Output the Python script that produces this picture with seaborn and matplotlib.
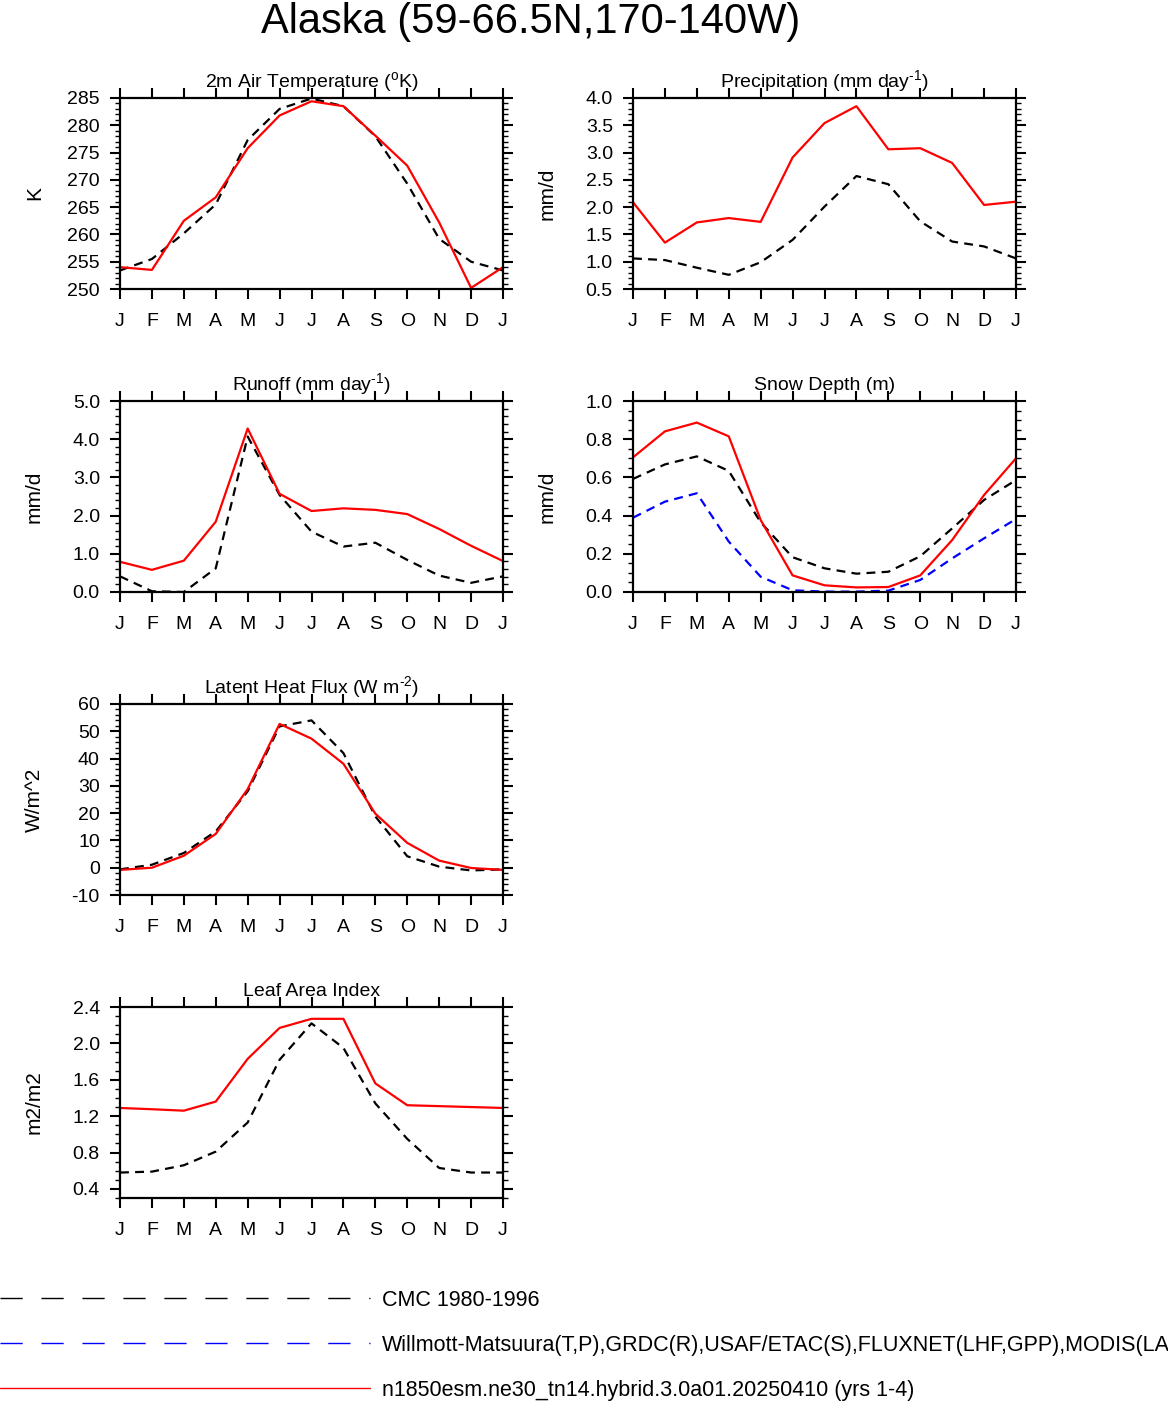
import numpy as np
import pandas as pd
import matplotlib
matplotlib.use("Agg")
import matplotlib.pyplot as plt
from matplotlib.lines import Line2D
from matplotlib.ticker import MultipleLocator
import seaborn as sns

sns.set_theme(style="ticks")
plt.rcParams["font.family"] = ["Liberation Sans", "DejaVu Sans"]
plt.rcParams["mathtext.fontset"] = "custom"
plt.rcParams["mathtext.rm"] = "Liberation Sans"
plt.rcParams["mathtext.default"] = "regular"
for k in ["text.color", "axes.labelcolor", "xtick.color", "ytick.color", "axes.edgecolor"]:
    plt.rcParams[k] = "black"

# ---------------- data ----------------
month_labels = ["J", "F", "M", "A", "M", "J", "J", "A", "S", "O", "N", "D", "J"]
months = list(range(13))

tsa_model = [254.0, 253.5, 262.5, 266.8, 275.8, 281.8, 284.4, 283.5, 278.1, 272.6, 262.2, 250.2, 254.0]
tsa_cmc = [253.4, 255.5, 260.2, 265.5, 277.3, 283.0, 284.9, 283.5, 278.0, 269.3, 259.2, 255.0, 253.4]

prc_model = [2.09, 1.35, 1.72, 1.80, 1.73, 2.91, 3.54, 3.85, 3.06, 3.08, 2.81, 2.04, 2.10]
prc_cmc = [1.06, 1.03, 0.89, 0.76, 0.99, 1.40, 2.01, 2.57, 2.42, 1.74, 1.37, 1.28, 1.06]

ro_model = [0.79, 0.58, 0.82, 1.84, 4.28, 2.57, 2.12, 2.19, 2.15, 2.04, 1.65, 1.21, 0.81]
ro_cmc = [0.41, 0.02, 0.00, 0.62, 4.07, 2.54, 1.58, 1.19, 1.29, 0.84, 0.43, 0.24, 0.41]

snow_model = [0.705, 0.841, 0.887, 0.815, 0.377, 0.087, 0.035, 0.024, 0.026, 0.087, 0.272, 0.508, 0.700]
snow_cmc = [0.592, 0.668, 0.710, 0.634, 0.365, 0.182, 0.124, 0.096, 0.106, 0.187, 0.333, 0.482, 0.586]
snow_obs = [0.389, 0.473, 0.517, 0.264, 0.080, 0.009, 0.002, 0.002, 0.007, 0.063, 0.176, 0.281, 0.382]

lhf_model = [-0.8, 0.0, 4.4, 12.4, 28.8, 52.7, 47.3, 38.1, 19.8, 9.1, 2.6, -0.1, -0.8]
lhf_cmc = [-0.6, 1.1, 5.4, 13.3, 28.0, 51.8, 54.0, 42.0, 18.8, 4.2, 0.4, -1.0, -0.6]

lai_model = [1.29, 1.276, 1.26, 1.36, 1.83, 2.17, 2.27, 2.27, 1.56, 1.32, 1.31, 1.30, 1.29]
lai_cmc = [0.58, 0.59, 0.66, 0.81, 1.13, 1.82, 2.22, 1.95, 1.34, 0.95, 0.63, 0.58, 0.58]

legend_labels = [
    "CMC 1980-1996",
    "Willmott-Matsuura(T,P),GRDC(R),USAF/ETAC(S),FLUXNET(LHF,GPP),MODIS(LAI)",
    "n1850esm.ne30_tn14.hybrid.3.0a01.20250410 (yrs 1-4)",
]

# ---------------- figure ----------------
W, H = 1168, 1401
fig = plt.figure(figsize=(W / 100, H / 100), dpi=100)

def ax_at(left_px, top_px, w_px=383, h_px=191):
    return fig.add_axes([left_px / W, 1 - (top_px + h_px) / H, w_px / W, h_px / H])

panels = [
    dict(pos=(120, 98), title="2m Air Temperature ($^{o}$K)", ylabel="K",
         ylim=(250, 285), major=5, minor=1, fmt="{:.0f}",
         series=[(tsa_cmc, "black", "dash"), (tsa_model, "red", "solid")]),
    dict(pos=(633, 98), title="Precipitation (mm day$^{\\text{-1}}$)", ylabel="mm/d",
         ylim=(0.5, 4.0), major=0.5, minor=0.1, fmt="{:.1f}",
         series=[(prc_cmc, "black", "dash"), (prc_model, "red", "solid")]),
    dict(pos=(120, 401), title="Runoff (mm day$^{\\text{-1}}$)", ylabel="mm/d",
         ylim=(0.0, 5.0), major=1.0, minor=0.2, fmt="{:.1f}",
         series=[(ro_cmc, "black", "dash"), (ro_model, "red", "solid")]),
    dict(pos=(633, 401), title="Snow Depth (m)", ylabel="mm/d",
         ylim=(0.0, 1.0), major=0.2, minor=0.05, fmt="{:.1f}",
         series=[(snow_cmc, "black", "dash"), (snow_obs, "blue", "dash"), (snow_model, "red", "solid")]),
    dict(pos=(120, 704), title="Latent Heat Flux (W m$^{\\text{-2}}$)", ylabel="W/m^2",
         ylim=(-10, 60), major=10, minor=2, fmt="{:.0f}",
         series=[(lhf_cmc, "black", "dash"), (lhf_model, "red", "solid")]),
    dict(pos=(120, 1007), title="Leaf Area Index", ylabel="m2/m2",
         ylim=(0.30, 2.4), major=0.4, minor=0.1, fmt="{:.1f}",
         series=[(lai_cmc, "black", "dash"), (lai_model, "red", "solid")]),
]

FS = 14
for p in panels:
    ax = ax_at(*p["pos"])
    for vals, col, sty in p["series"]:
        df = pd.DataFrame({"month": months, "value": vals})
        ls = (0, (4, 2.8)) if sty == "dash" else "-"
        sns.lineplot(data=df, x="month", y="value", ax=ax, color=col,
                     linestyle=ls, linewidth=1.6, errorbar=None, sort=False)
    ax.set_xlim(0, 12)
    ax.set_ylim(*p["ylim"])
    ax.set_xticks(months)
    ax.set_xticklabels(month_labels)
    ax.yaxis.set_minor_locator(MultipleLocator(p["minor"]))
    lo, hi = p["ylim"]
    ticks = [float(t) for t in np.arange(np.ceil(lo / p["major"] - 1e-9) * p["major"], hi + 1e-9, p["major"])]
    ax.set_yticks(ticks)
    ax.set_yticklabels([p["fmt"].format(0.0 if abs(t) < 1e-9 else t) for t in ticks])
    ax.set_xlabel("")
    ax.set_ylabel(p["ylabel"], fontsize=15)
    ax.yaxis.set_label_coords(-76 / 383, 0.5)
    for s in ax.spines.values():
        s.set_linewidth(1.6)
        s.set_visible(True)
    ax.tick_params(axis="y", which="major", direction="out", length=7.5, width=1.5,
                   left=True, right=True, labelsize=FS, pad=7, colors="black")
    ax.tick_params(axis="x", which="major", direction="out", length=7.5, width=1.5,
                   top=True, bottom=True, labelsize=FS, pad=10, colors="black")
    ax.tick_params(axis="y", which="minor", direction="out", length=3.8, width=1.0,
                   left=True, right=True)
    ax.tick_params(axis="x", which="minor", bottom=False, top=False)
    ax.text(0.5, 1 + 11 / 191, p["title"], transform=ax.transAxes, ha="center",
            va="baseline", fontsize=FS)

fig.text(531 / W, 1 - 33 / H, "Alaska (59-66.5N,170-140W)", ha="center", va="baseline",
         fontsize=30)

handles = [
    Line2D([], [], color="black", linewidth=1.0, linestyle=(0, (16, 13.5))),
    Line2D([], [], color="blue", linewidth=1.0, linestyle=(0, (16, 13.5))),
    Line2D([], [], color="red", linewidth=1.0, linestyle="-"),
]
LFS = 15.5
fig.legend(handles, legend_labels, loc="upper left", bbox_to_anchor=(0, 1 - 1290 / H),
           frameon=False, fontsize=LFS, handlelength=17.2, handletextpad=0.55,
           borderpad=0, borderaxespad=0, labelspacing=1.11)

fig.savefig("out.png", dpi=100)
